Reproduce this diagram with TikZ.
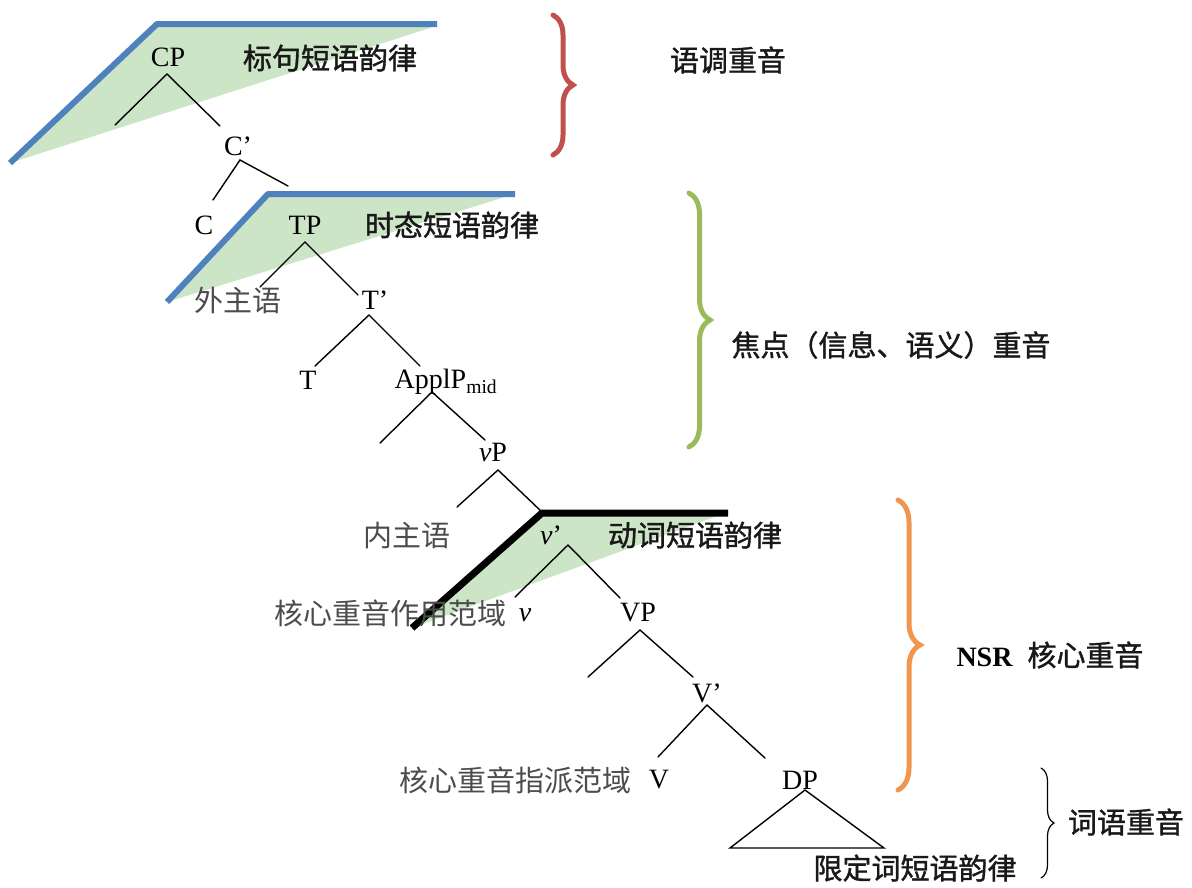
\documentclass[tikz,border=0pt]{standalone}
\usepackage{fontspec}
\setmainfont{Liberation Serif}
\newfontfamily\cjk{Noto Sans CJK SC}
\newfontfamily\cjkb[FakeBold=1.3]{Noto Sans CJK SC}
\usetikzlibrary{decorations.pathreplacing}
\definecolor{zonegreen}{RGB}{204,229,198}
\definecolor{zoneblue}{RGB}{79,129,189}
\definecolor{bred}{RGB}{192,80,77}
\definecolor{bgreen}{RGB}{155,187,89}
\definecolor{borange}{RGB}{240,150,80}
\tikzset{
  lat/.style={font=\fontsize{28}{30}\selectfont, inner sep=0pt},
  zh/.style={font=\cjkb\fontsize{29}{32}\selectfont, text=black!90, inner sep=0pt},
  zhl/.style={font=\cjk\fontsize{29}{32}\selectfont, text=black!70, inner sep=0pt},
  branch/.style={line width=1.4pt, line cap=round},
  zone/.style={fill=zonegreen, draw=none},
  zoneline/.style={line width=6pt, line join=round},
  bigbrace/.style={decorate, decoration={brace, amplitude=#1}, line cap=round}
}
\begin{document}
\begin{tikzpicture}[x=1pt,y=-1pt]
\path[use as bounding box] (0,0) rectangle (1192,887);

% zones
\fill[zone] (10,163) -- (157,24) -- (437,24) -- (430,28) -- cycle;
\draw[zoneline, draw=zoneblue] (10,163) -- (157,24) -- (437,24);
\fill[zone] (167,302) -- (268,194) -- (515,194) -- (505,197) -- cycle;
\draw[zoneline, draw=zoneblue] (167,302) -- (268,194) -- (515,194);
\fill[zone] (412,628) -- (542,513) -- (728,513) -- (717,516) -- cycle;
\draw[zoneline, line width=7pt, draw=black] (412,628) -- (542,513) -- (728,513);

% tree nodes
\node[lat] (CP) at (168,57) {CP};
\node[lat] (Cb) at (238,146) {C’};
\node[lat] (C) at (204,225) {C};
\node[lat] (TP) at (305,225) {TP};
\node[zhl] (wai) at (238,300) {外主语};
\node[lat] (Tb) at (375,300) {T’};
\node[lat] (T) at (308,380) {T};
\node[lat] (Appl) at (446,382) {ApplP\textsubscript{mid}};
\node[lat] (vP) at (493,452) {\textit{v}P};
\node[zhl] (nei) at (407,535) {内主语};
\node[lat] (vb) at (551,535) {\textit{v}’};
\node[zhl] (zuoyong) at (390,613) {核心重音作用范域};
\node[lat] (v) at (525,615) {\textit{v}};
\node[lat] (VP) at (638,613) {VP};
\node[lat] (Vb) at (707,693) {V’};
\node[zhl] (zhipai) at (515,780) {核心重音指派范域};
\node[lat] (V) at (659,780) {V};
\node[lat] (DP) at (800,780) {DP};
\node[zh] (xianding) at (915,868) {限定词短语韵律};

% zone labels
\node[zh] (z1) at (330,58) {标句短语韵律};
\node[zh] (z2) at (452,225) {时态短语韵律};
\node[zh] (z3) at (695,535) {动词短语韵律};

% branch coordinates
\coordinate (cpA) at (167,74);  \coordinate (cpL) at (115,125); \coordinate (cpR) at (220,126);
\coordinate (cbA) at (240,160); \coordinate (cbL) at (213,200); \coordinate (cbR) at (288,186);
\coordinate (tpA) at (305,242); \coordinate (tpL) at (260,287); \coordinate (tpR) at (358,295);
\coordinate (tbA) at (369,315); \coordinate (tbL) at (315,366); \coordinate (tbR) at (420,366);
\coordinate (apA) at (432,392); \coordinate (apL) at (380,443); \coordinate (apR) at (485,440);
\coordinate (vpA) at (498,470); \coordinate (vpL) at (457,507); \coordinate (vpR) at (542,512);
\coordinate (vbA) at (568,545); \coordinate (vbL) at (515,597); \coordinate (vbR) at (620,598);
\coordinate (VPA) at (640,630); \coordinate (VPL) at (588,677); \coordinate (VPR) at (693,677);
\coordinate (VbA) at (707,705); \coordinate (VbL) at (658,757); \coordinate (VbR) at (765,758);
\coordinate (dpA) at (805,790); \coordinate (dpL) at (730,848); \coordinate (dpR) at (884,848);

\draw[branch] (cpL) -- (cpA) -- (cpR);
\draw[branch] (cbL) -- (cbA) -- (cbR);
\draw[branch] (tpL) -- (tpA) -- (tpR);
\draw[branch] (tbL) -- (tbA) -- (tbR);
\draw[branch] (apL) -- (apA) -- (apR);
\draw[branch] (vpL) -- (vpA) -- (vpR);
\draw[branch] (vbL) -- (vbA) -- (vbR);
\draw[branch] (VPL) -- (VPA) -- (VPR);
\draw[branch] (VbL) -- (VbA) -- (VbR);
\draw[branch, line join=miter] (dpA) -- (dpL) -- (dpR) -- cycle;

% braces
\coordinate (b1t) at (553,15);  \coordinate (b1b) at (553,155);
\coordinate (b2t) at (689,193); \coordinate (b2b) at (689,447);
\coordinate (b3t) at (898,500); \coordinate (b3b) at (898,790);
\coordinate (b4t) at (1041,768); \coordinate (b4b) at (1041,878);
\draw[bigbrace=20pt, draw=bred, line width=5pt] (b1t) -- (b1b);
\draw[bigbrace=21pt, draw=bgreen, line width=5pt] (b2t) -- (b2b);
\draw[bigbrace=22pt, draw=borange, line width=5pt] (b3t) -- (b3b);
\draw[bigbrace=13pt, draw=black, line width=1.2pt] (b4t) -- (b4b);

\node[zh] (l1) at (728,60) {语调重音};
\node[zh] (l2) at (891,345) {焦点（信息、语义）重音};
\node[inner sep=0pt] (l3) at (1050,655) {\fontsize{28}{30}\selectfont\bfseries NSR\hspace{15pt}\cjkb\mdseries\fontsize{29}{32}\selectfont\color{black!90}核心重音};
\node[zh] (l4) at (1126,822) {词语重音};
\end{tikzpicture}
\end{document}
